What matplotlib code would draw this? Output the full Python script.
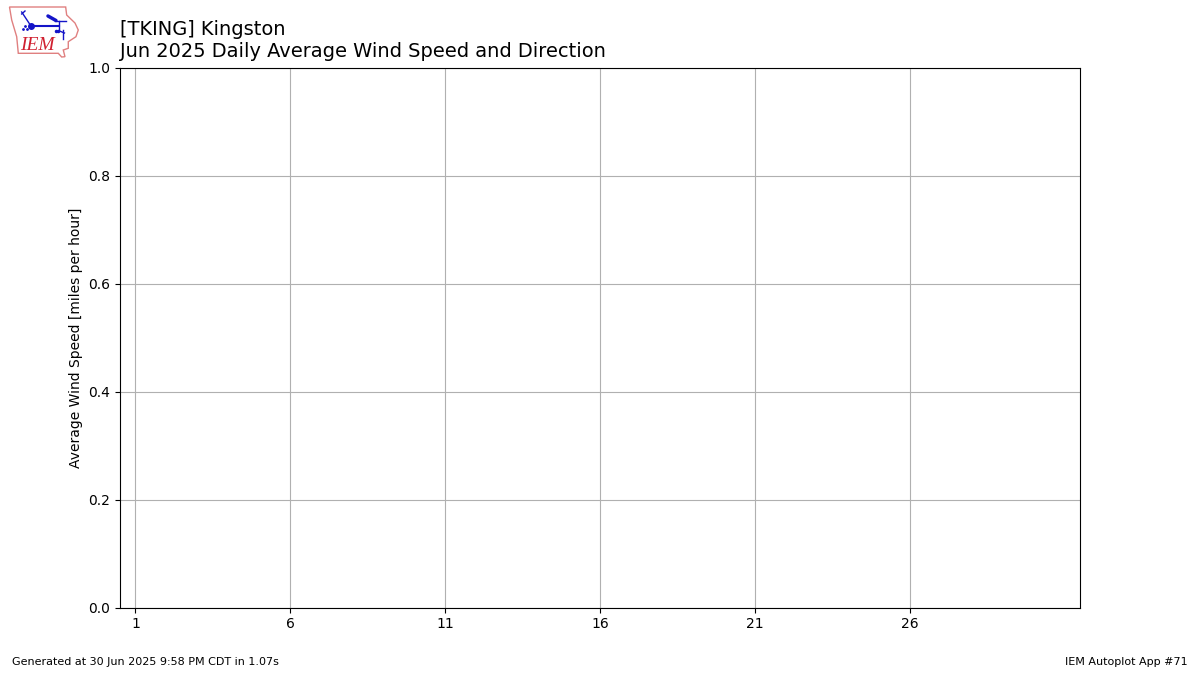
import matplotlib
matplotlib.use("Agg")
import matplotlib.pyplot as plt
from matplotlib.patches import Polygon

days = [1, 6, 11, 16, 21, 26]
yticks = [0.0, 0.2, 0.4, 0.6, 0.8, 1.0]

title_lines = "[TKING] Kingston\nJun 2025 Daily Average Wind Speed and Direction"
ylabel = "Average Wind Speed [miles per hour]"
footer_left = "Generated at 30 Jun 2025 9:58 PM CDT in 1.07s"
footer_right = "IEM Autoplot App #71"

# logo outline, in pixels of the logo box
state_x = [9.5, 65.7, 66.7, 75, 78.3, 76, 68.3, 68.3, 63.3, 65, 61.7, 58.3, 18.3, 16.7, 11.7]
state_y = [7, 7, 15, 23, 30, 36.7, 41.7, 48.3, 50, 56.7, 57, 53.3, 53.3, 36.7, 20]

fig = plt.figure(figsize=(12, 6.75), dpi=100)
ax = fig.add_axes([0.1, 0.1, 0.8, 0.8])
ax.set_xlim(0.5, 31.5)
ax.set_ylim(0, 1)
ax.set_xticks(days)
ax.set_yticks(yticks)
ax.grid(True)
ax.set_ylabel(ylabel)

fig.text(0.1, 0.91, title_lines, fontsize=13.95, ha="left", va="bottom")
fig.text(0.01, 0.0125, footer_left, fontsize=8, ha="left", va="bottom")
fig.text(0.99, 0.0125, footer_right, fontsize=8, ha="right", va="bottom")

# the IEM logo, drawn roughly
blue = "#1414c8"
logo = fig.add_axes([0, 0.9, 0.0833, 0.1])
logo.set_xlim(0, 100)
logo.set_ylim(67.5, 0)
logo.axis("off")
logo.add_patch(Polygon(list(zip(state_x, state_y)), closed=True, fill=False, edgecolor="#e08080", lw=1))
logo.plot([31, 59.3], [26, 26], color=blue, lw=1.5)
logo.plot([31], [26], "o", color=blue, ms=4)
logo.plot([48, 56], [16, 20.5], color=blue, lw=2.5, solid_capstyle="round")
logo.plot([55, 66], [20.7, 20.7], color=blue, lw=1)
logo.plot([59.3, 59.3], [20.7, 31], color=blue, lw=1)
logo.plot([21.7, 29.3], [12, 23.5], color=blue, lw=1)
logo.plot([21.7, 25], [14, 11], color=blue, lw=1)
logo.plot([23, 25, 27], [29, 26, 29], ".", color=blue, ms=2)
logo.plot([56, 58], [31, 31], ".", color=blue, ms=3)
logo.plot([63, 63], [30, 38.5], color=blue, lw=1)
logo.plot([59.5, 64.5], [31, 33], color=blue, lw=1)
logo.text(37.5, 45.5, "IEM", color="#d02030", fontsize=14, family="Liberation Serif", style="italic", ha="center", va="center")

fig.savefig("out.png", dpi=100)
